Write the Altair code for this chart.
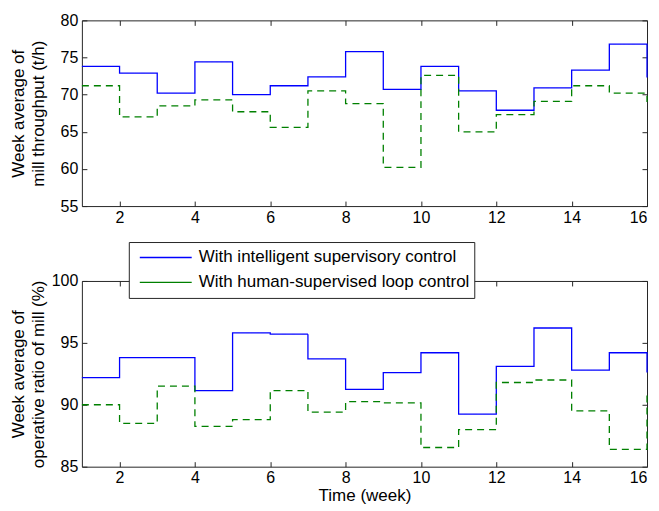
import altair as alt
import pandas as pd

weeks = list(range(1, 17))
throughput_intelligent = [73.8, 72.9, 70.2, 74.4, 70.0, 71.2, 72.4, 75.8, 70.7, 73.8, 70.5, 67.9, 70.9, 73.3, 76.8, 72.3]
throughput_human = [71.2, 67.0, 68.5, 69.3, 67.7, 65.6, 70.5, 68.8, 60.2, 72.6, 65.0, 67.3, 69.1, 71.2, 70.2, 69.0]
ratio_intelligent = [92.2, 93.8, 93.8, 91.15, 95.8, 95.7, 93.7, 91.25, 92.6, 94.2, 89.25, 93.1, 96.2, 92.8, 94.2, 92.6]
ratio_human = [90.0, 88.5, 91.5, 88.25, 88.8, 91.15, 89.4, 90.25, 90.15, 86.55, 88.0, 91.8, 92.0, 89.5, 86.4, 90.8]
series_names = ["With intelligent supervisory control", "With human-supervised loop control"]
x_ticks = [2, 4, 6, 8, 10, 12, 14, 16]
top_ticks = [55, 60, 65, 70, 75, 80]
bottom_ticks = [85, 90, 95, 100]

FONT = "Liberation Sans"
W, H = 566, 186


def long_df(a, b):
    rows = []
    for w, v in zip(weeks, a):
        rows.append({"week": w, "value": v, "series": series_names[0], "style": "solid"})
    for w, v in zip(weeks, b):
        rows.append({"week": w, "value": v, "series": series_names[1], "style": "dashed"})
    return pd.DataFrame(rows)


legend = alt.Legend(
    orient="none", legendX=47, legendY=222, title=None,
    symbolType="stroke", symbolSize=2704, symbolStrokeWidth=1.3,
    clipHeight=23, padding=4, symbolOffset=6, labelOffset=6,
    labelFont=FONT, labelFontSize=17, labelColor="black", labelLimit=600,
    labelExpr="datum.label + '\u00a0\u00a0\u00a0'",
    strokeColor="#262626", fillColor="white",
)


def panel(df, ydom, yvals, ytitle, title_pad, xtitle):
    xs = alt.Scale(domain=[1, 16], nice=False, zero=False)
    ys = alt.Scale(domain=ydom, nice=False, zero=False)
    base = alt.Chart(df)
    color = alt.Color("series:N", scale=alt.Scale(domain=series_names, range=["#0000ff", "#008000"]), legend=legend)
    dash = alt.StrokeDash("style:N", scale=alt.Scale(domain=["solid", "dashed"], range=[[1, 0], [7, 5]]), legend=None)
    lines = base.mark_line(interpolate="step-after", strokeWidth=1.3).encode(
        x=alt.X("week:Q", scale=xs, axis=alt.Axis(orient="bottom", values=x_ticks, tickSize=0, labelPadding=3,
                                                  labelFlush=True, title=xtitle, titlePadding=2)),
        y=alt.Y("value:Q", scale=ys, axis=alt.Axis(orient="left", values=yvals, tickSize=0, labelPadding=4,
                                                   title=ytitle, titleLineHeight=20, titlePadding=title_pad)),
        color=color,
        strokeDash=dash,
    )
    ax2 = base.mark_line(opacity=0).encode(
        x=alt.X("week:Q", scale=xs, axis=alt.Axis(orient="top", offset=-H, values=x_ticks, tickSize=5, labels=False, title=None)),
        y=alt.Y("value:Q", scale=ys, axis=alt.Axis(orient="right", offset=-W, values=yvals, tickSize=5, labels=False, title=None)),
        detail="series:N",
    )
    ax3 = base.mark_line(opacity=0).encode(
        x=alt.X("week:Q", scale=xs, axis=alt.Axis(orient="bottom", offset=-H, values=x_ticks, tickSize=5, labels=False, title=None)),
        y=alt.Y("value:Q", scale=ys, axis=alt.Axis(orient="left", offset=-W, values=yvals, tickSize=5, labels=False, title=None)),
        detail="series:N",
    )
    return alt.layer(lines, ax2, ax3).resolve_axis(x="independent", y="independent").properties(width=W, height=H)


top = panel(long_df(throughput_intelligent, throughput_human), [55, 80], top_ticks,
            ["Week average of", "mill throughput (t/h)"], 13, None)
bottom = panel(long_df(ratio_intelligent, ratio_human), [85, 100], bottom_ticks,
               ["Week average of", "operative ratio of mill (%)"], 4, "Time (week)")

chart = alt.vconcat(top, bottom, spacing=46).properties(
    padding={"left": 0, "top": 3, "right": 0, "bottom": 0},
    background="white",
).configure_view(stroke="#262626", strokeWidth=1).configure_axis(
    labelFont=FONT, labelFontSize=16, labelColor="black",
    titleFont=FONT, titleFontSize=17, titleFontWeight="normal", titleColor="black",
    tickColor="#262626", grid=False, domain=False,
)

chart.save("out.html", embed_options={"renderer": "svg", "actions": False})
